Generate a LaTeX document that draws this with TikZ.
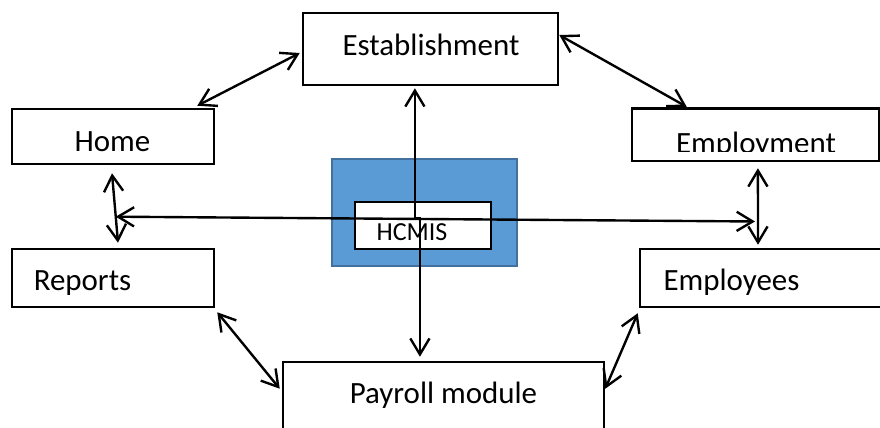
\documentclass[tikz,border=0pt]{standalone}
\usepackage{fontspec}
\setmainfont{Carlito}
\usetikzlibrary{arrows.meta}

\definecolor{hcfill}{HTML}{5B9BD5}
\definecolor{hcline}{HTML}{41719C}

\tikzset{
	box/.style={draw, line width=1.8pt, inner sep=0pt},
	lbl/.style={anchor=base, font=\fontsize{22}{26}\selectfont, inner sep=0pt},
	link/.style={line width=1.7pt, {Straight Barb[length=4mm,width=4.8mm]}-{Straight Barb[length=4mm,width=4.8mm]}},
}

\begin{document}
\begin{tikzpicture}
		\clip (0,0) rectangle (22,-10.675);
		\fill[white] (0,0) rectangle (22,-10.675);
		
		% boxes
		\node[box, minimum width=6.375cm, minimum height=1.8cm] (est) at (10.7625,-1.225){};
		\node[box, minimum width=5.05cm, minimum height=1.375cm] (home) at (2.825,-3.4125){};
		\node[box, minimum width=6.175cm, minimum height=1.3125cm] (emp) at (18.8875,-3.36875){};
		\node[box, minimum width=5.05cm, minimum height=1.45cm] (rep) at (2.825,-6.95){};
		\node[box, minimum width=6.5cm, minimum height=1.45cm] (staff) at (19.25,-6.95){};
		\node[box, minimum width=8.025cm, minimum height=2.45cm] (pay) at (11.0875,-10.275){};
		\node[draw=hcline, fill=hcfill, line width=1.4pt, minimum width=4.625cm, minimum height=2.675cm, inner sep=0pt] (hc) at (10.6125,-5.3125){};
		\node[draw, fill=white, line width=0.8pt, minimum width=3.4cm, minimum height=1.175cm, inner sep=0pt] (hcin) at (10.575,-5.6375){};
		
		% texts
		\node[lbl] (estT) at (10.775,-1.375){Establishment};
		\node[lbl] (homeT) at (2.8125,-3.775){Home};
		\begin{scope}
			\clip (15.8,-2.7125) rectangle (21.975,-3.775);
			\node[lbl] (empT) at (18.9,-3.825){Employment};
		\end{scope}
		\node[lbl] (repT) at (2.0625,-7.25){Reports};
		\node[lbl] (staffT) at (18.2875,-7.25){Employees};
		\node[lbl] (payT) at (11.0875,-10.075){Payroll module};
		\node[lbl, font=\fontsize{18.5}{22}\selectfont] (hcT) at (10.3,-6.0){HCMIS};
		
		% connectors
		\draw[link] ([xshift=-0.45cm, yshift=0.05cm]home.north east) -- ([xshift=-0.05cm, yshift=-0.1cm]est.west);
		\draw[link] ([yshift=0.35cm]est.east) -- ([xshift=1.4cm, yshift=0.01cm]emp.north west);
		\draw[link] ([xshift=-0.025cm, yshift=-0.2cm]home.south) -- coordinate[pos=0.625] (hl) ([xshift=0.125cm, yshift=0.125cm]rep.north);
		\draw[link] ([xshift=0.06cm, yshift=-0.15cm]emp.south) -- coordinate[pos=0.696] (hr) ([xshift=-0.3cm, yshift=0.075cm]staff.north);
		\draw[link] ([xshift=0.05cm, yshift=-0.1cm]rep.south east) -- ([xshift=-0.05cm, yshift=-0.7cm]pay.north west);
		\draw[link] ([xshift=-0.025cm, yshift=-0.125cm]staff.south west) -- ([yshift=-0.7cm]pay.north east);
		\draw[link] ([xshift=-0.39cm, yshift=-0.05cm]est.south) -- ++(0,-3.25) -| ([xshift=-0.59cm, yshift=0.1cm]pay.north);
		\draw[link] (hl) -- ([xshift=-0.075cm]hr);
	\end{tikzpicture}
\end{document}
